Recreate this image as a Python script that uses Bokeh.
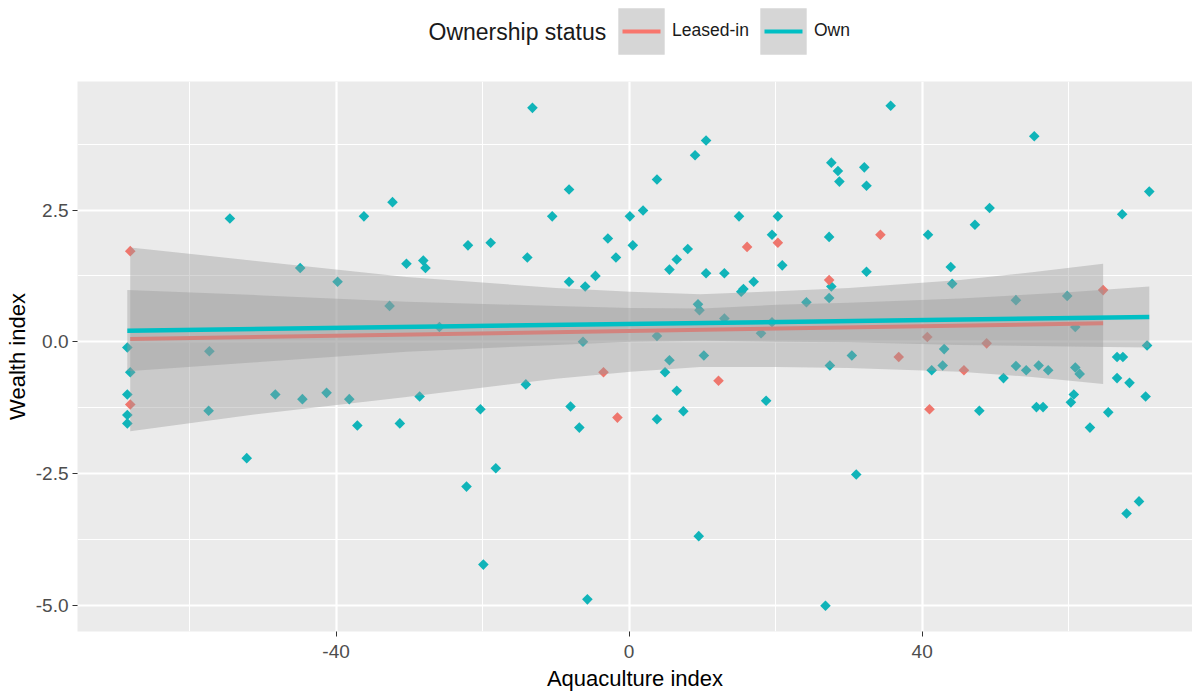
import numpy as np
from bokeh.plotting import figure
from bokeh.layouts import column
from bokeh.models import Range1d, FixedTicker, PrintfTickFormatter, Legend, LegendItem, Label
from bokeh.embed import file_html
from bokeh.resources import INLINE

# ---------------- data ----------------
leased_x = [-68.1, -68.1, -3.5, -1.6, 12.2, 16.1, 20.3, 27.3, 34.3, 36.8, 40.7, 41.0, 45.7, 48.8, 64.7]
leased_y = [1.72, -1.19, -0.58, -1.44, -0.74, 1.80, 1.88, 1.17, 2.03, -0.29, 0.09, -1.28, -0.54, -0.03, 0.98]

own_x = [-68.5, -68.1, -68.5, -68.5, -68.5, -57.3, -57.4, -54.5, -52.2,
         -48.3, -44.9, -44.6, -41.3, -39.8, -38.2, -37.1, -36.2,
         -32.3, -32.7, -31.3, -30.4, -28.6, -28.1, -27.8, -25.9,
         -22.2, -22.0, -20.3, -19.9, -18.9, -18.2,
         -14.1, -13.9, -13.2, -10.5, -8.2, -8.2, -8.0, -6.8, -6.3, -6.0, -5.7, -4.6, -2.9, -1.8,
         0.1, 0.5, 1.9, 3.8, 3.8, 3.8, 4.9, 5.5, 5.5, 6.5, 6.5, 7.4, 8.0, 9.0, 9.4, 9.6, 9.5,
         10.2, 10.5, 10.5, 13.0, 13.0, 15.0, 15.3, 15.6, 17.0, 18.0, 18.7, 19.5, 19.5, 20.3, 20.9,
         24.2, 26.8, 27.3, 27.3, 27.4, 27.6, 27.6, 28.5, 28.7, 30.4, 31.0, 32.1, 32.4, 32.4, 35.7,
         40.8, 41.3, 42.8, 43.0, 43.9, 44.1, 47.2, 47.8, 49.2, 51.1, 52.8, 52.8, 54.2, 55.3, 55.6,
         55.9, 56.5, 57.2, 59.8, 60.3, 60.7, 60.9, 60.9, 61.5, 62.9, 65.4, 66.6, 66.6, 67.3, 67.4,
         67.9, 68.3, 69.6, 70.5, 70.7, 71.0]
own_y = [-0.11, -0.58, -1.00, -1.39, -1.55, -0.18, -1.31, 2.34, -2.21,
         -1.00, 1.40, -1.09, -0.97, 1.14, -1.09, -1.59, 2.38,
         2.65, 0.68, -1.55, 1.48, -1.04, 1.54, 1.40, 0.28,
         -2.75, 1.83, -1.28, -4.23, 1.88, -2.40,
         -0.81, 1.60, 4.44, 2.38, 2.89, 1.14, -1.23, -1.63, 0.00, 1.05, -4.89, 1.25, 1.96, 1.60,
         2.38, 1.83, 2.49, 3.08, 0.11, -1.47, -0.58, 1.37, -0.35, 1.56, -0.93, -1.32, 1.76, 3.54, 0.71, 0.60, -3.69,
         -0.26, 3.82, 1.30, 1.30, 0.44, 2.38, 0.95, 1.00, 1.14, 0.16, -1.12, 2.03, 0.37, 2.38, 1.45,
         0.75, -5.01, 1.99, 0.83, -0.45, 3.40, 1.05, 3.24, 3.04, -0.26, -2.52, 3.31, 2.96, 1.33, 4.48,
         2.03, -0.54, -0.45, -0.14, 1.42, 1.10, 2.22, -1.31, 2.54, -0.69, 0.79, -0.46, -0.54, 3.90, -1.24,
         -0.45, -1.24, -0.54, 0.87, -1.15, -1.00, 0.28, -0.49, -0.61, -1.63, -1.34, -0.29, -0.69, 2.42, -0.29,
         -3.26, -0.78, -3.03, -1.04, -0.07, 2.85]

# fitted lines (end values)
leased_fit_x = [-68.1, 64.7]
leased_fit_y = [0.05, 0.35]
own_fit_x = [-68.5, 71.0]
own_fit_y = [0.21, 0.47]

# confidence bands read at several x positions
leased_band_x = [-68.1, -50.0, -30.4, -10.0, 0.2, 9.7, 20.2, 30.0, 45.2, 55.0, 64.7]
leased_band_lo = [-1.70, -1.36, -1.05, -0.70, -0.57, -0.48, -0.48, -0.50, -0.57, -0.67, -0.80]
leased_band_hi = [1.79, 1.52, 1.23, 1.02, 0.95, 0.90, 0.96, 1.02, 1.17, 1.32, 1.48]
own_band_x = [-68.5, -50.0, -30.4, -10.0, 0.2, 10.0, 20.2, 30.0, 45.2, 60.0, 71.0]
own_band_lo = [-0.56, -0.38, -0.19, -0.06, 0.00, 0.02, 0.00, -0.01, -0.06, -0.09, -0.11]
own_band_hi = [0.98, 0.88, 0.76, 0.68, 0.64, 0.63, 0.70, 0.74, 0.82, 0.94, 1.05]

x_ticks = [-40, 0, 40]
x_minor = [-60, -20, 20, 60]
y_ticks = [-5.0, -2.5, 0.0, 2.5]
y_minor = [-3.75, -1.25, 1.25, 3.75]

legend_title = "Ownership status"
legend_labels = ["Leased-in", "Own"]

RED = "#F8766D"
TEAL = "#00BFC4"
RED_PT = "#EE766D"
TEAL_PT = "#10B4B9"
BAND = "#999999"
FONT = "Liberation Sans"

# ---------------- legend strip ----------------
leg = figure(width=1192, height=81, x_range=Range1d(0, 1), y_range=Range1d(0, 1),
             output_backend="svg", toolbar_location=None,
             x_axis_location=None, y_axis_location=None, min_border=0)
leg.grid.visible = False
leg.outline_line_color = None
leg.background_fill_color = "white"
leg.border_fill_color = "white"

key_items = []
for lab, col in zip(legend_labels, [RED, TEAL]):
    # key-only renderers: their data lies outside the strip's visible range
    box = leg.varea(x=[2, 3], y1=[2, 2], y2=[3, 3], fill_color=BAND, fill_alpha=0.4)
    ln = leg.line(x=[2, 3], y=[2, 2], line_color=col, line_width=4, line_dash="0 10 38 100")
    key_items.append(LegendItem(label=lab, renderers=[box, ln]))

legend = Legend(items=key_items, orientation="horizontal", location=(535, 21.5),
                glyph_width=58, glyph_height=58, label_standoff=2, spacing=5,
                padding=0, margin=0, border_line_color=None, background_fill_alpha=0,
                label_text_font=FONT, label_text_font_size="17.5px", label_text_color="#1a1a1a")
leg.add_layout(legend)
leg.add_layout(Label(x=351, y=50, x_units="screen", y_units="screen", text=legend_title,
                     text_font=FONT, text_font_size="23px", text_baseline="middle",
                     text_color="#1a1a1a"))

# ---------------- main plot ----------------
p = figure(width=1192, height=612, x_range=Range1d(-75.3, 76.9), y_range=Range1d(-5.50, 4.94),
           output_backend="svg", toolbar_location=None,
           min_border_left=77, min_border_right=0, min_border_top=0, min_border_bottom=61)
p.background_fill_color = "#EBEBEB"
p.border_fill_color = "white"
p.outline_line_color = None

# points
p.scatter(own_x, own_y, marker="square", angle=np.pi / 4, size=7.5, fill_color=TEAL_PT, line_color=None)
p.scatter(leased_x, leased_y, marker="square", angle=np.pi / 4, size=7.5, fill_color=RED_PT, line_color=None)

# smooths: ribbon then line per group
p.varea(x=leased_band_x, y1=leased_band_lo, y2=leased_band_hi, fill_color=BAND, fill_alpha=0.4)
p.line(leased_fit_x, leased_fit_y, line_color=RED, line_width=4)
p.varea(x=own_band_x, y1=own_band_lo, y2=own_band_hi, fill_color=BAND, fill_alpha=0.4)
p.line(own_fit_x, own_fit_y, line_color=TEAL, line_width=4.5)

# axes
p.xaxis.ticker = FixedTicker(ticks=x_ticks, minor_ticks=x_minor)
p.yaxis.ticker = FixedTicker(ticks=y_ticks, minor_ticks=y_minor)
p.xaxis.formatter = PrintfTickFormatter(format="%d")
p.yaxis.formatter = PrintfTickFormatter(format="%.1f")
p.xaxis.axis_label = "Aquaculture index"
p.yaxis.axis_label = "Wealth index"
for ax in (p.xaxis, p.yaxis):
    ax.axis_line_color = None
    ax.major_tick_line_color = "#333333"
    ax.major_tick_out = 5
    ax.major_tick_in = 0
    ax.minor_tick_line_color = None
    ax.major_label_text_color = "#4D4D4D"
    ax.major_label_text_font = FONT
    ax.major_label_text_font_size = "19px"
    ax.axis_label_text_font = FONT
    ax.axis_label_text_font_size = "22px"
    ax.axis_label_text_font_style = "normal"
    ax.axis_label_text_color = "black"
    ax.major_label_standoff = 4
    ax.axis_label_standoff = 3
p.xaxis.major_label_standoff = 8
p.xaxis.axis_label_standoff = 5

for g in (p.xgrid, p.ygrid):
    g.grid_line_color = "white"
    g.grid_line_width = 2.2
    g.minor_grid_line_color = "white"
    g.minor_grid_line_width = 1.1

layout = column(leg, p, spacing=0)
open("out.html", "w").write(file_html(layout, INLINE))
